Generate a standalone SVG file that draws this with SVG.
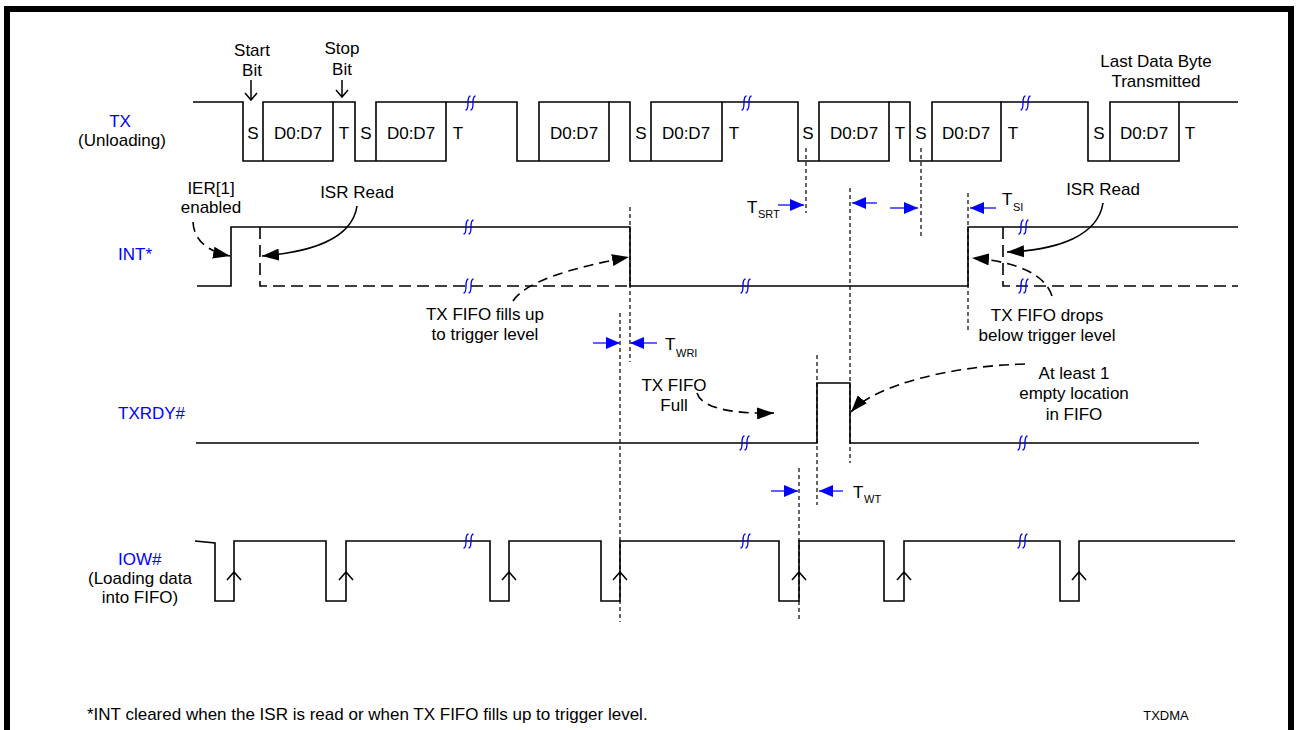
<svg xmlns="http://www.w3.org/2000/svg" width="1298" height="730" viewBox="0 0 1298 730">
<style>
text{font-family:"Liberation Sans",Arial,sans-serif;font-size:17px;fill:#000}
.lbl{fill:#0000ff}
.mid{text-anchor:middle}
.sub{font-size:11px}
.sig{fill:none;stroke:#000;stroke-width:1.6}
.box{fill:none;stroke:#000;stroke-width:1.6}
.alt{fill:none;stroke:#000;stroke-width:1.6;stroke-dasharray:12,6}
.tm{fill:none;stroke:#000;stroke-width:1.2;stroke-dasharray:4,3}
.brk{fill:none;stroke:#0000ff;stroke-width:1.3}
.curve{fill:none;stroke:#000;stroke-width:1.6;marker-end:url(#ah)}
.dcurve{fill:none;stroke:#000;stroke-width:1.6;stroke-dasharray:10,6;marker-end:url(#ah)}
.barr{fill:none;stroke:#3a3aff;stroke-width:1.6;marker-end:url(#bh)}
.chev{fill:none;stroke:#000;stroke-width:1.5}
</style>
<defs>
<marker id="ah" viewBox="0 0 17 12" refX="17" refY="6" markerWidth="17" markerHeight="12" markerUnits="userSpaceOnUse" orient="auto">
<path d="M0,0 L17,6 L0,12 z" fill="#000"/>
</marker>
<marker id="bh" viewBox="0 0 14 12" refX="14" refY="6" markerWidth="14" markerHeight="12" markerUnits="userSpaceOnUse" orient="auto">
<path d="M0,0 L14,6 L0,12 z" fill="#0000ff"/>
</marker>
<path id="bm" d="M0.5,-7 Q-2,-7 -2,0 Q-2,7 -4.5,7 M5.5,-7 Q3,-7 3,0 Q3,7 0.5,7"/>
</defs>
<rect x="7" y="9" width="1284" height="760" fill="#fff" stroke="#000" stroke-width="6"/>

<g id="tx">
<text class="lbl mid" x="120" y="127">TX</text>
<text class="mid" x="122" y="146">(Unloading)</text>
<path class="sig" d="M193,102 H243 V161 H333 V102 H355 V161 H446 V102 H517 V161 H609 V102 H630 V161 H722 V102 H798 V161 H889 V102 H910 V161 H1001 V102 H1088 V161 H1179 V102 H1238"/>
<path class="box" d="M263,161 V102 H333 M376,161 V102 H446 M539,161 V102 H609 M651,161 V102 H722 M819,161 V102 H889 M932,161 V102 H1001 M1110,161 V102 H1179"/>
<g class="mid">
<text x="253" y="139">S</text><text x="298" y="139">D0:D7</text><text x="344" y="139">T</text>
<text x="366" y="139">S</text><text x="411" y="139">D0:D7</text><text x="458" y="139">T</text>
<text x="574" y="139">D0:D7</text>
<text x="641" y="139">S</text><text x="686" y="139">D0:D7</text><text x="734" y="139">T</text>
<text x="808" y="139">S</text><text x="854" y="139">D0:D7</text><text x="900" y="139">T</text>
<text x="921" y="139">S</text><text x="966" y="139">D0:D7</text><text x="1013" y="139">T</text>
<text x="1099" y="139">S</text><text x="1144" y="139">D0:D7</text><text x="1190" y="139">T</text>
</g>
<text class="mid" x="252" y="56">Start</text>
<text class="mid" x="252" y="76">Bit</text>
<text class="mid" x="342" y="54">Stop</text>
<text class="mid" x="342" y="75">Bit</text>
<path class="chev" d="M251,80 V100 M245,93 L251,100 L257,93 M342,80 V97 M336,90 L342,97 L348,90"/>
<text class="mid" x="1156" y="67">Last Data Byte</text>
<text class="mid" x="1156" y="87">Transmitted</text>
</g>

<g id="int">
<text class="lbl" x="118" y="260">INT*</text>
<path class="sig" d="M197,286 H231 V227 H630 V286 H968 V227 H1238"/>
<path class="alt" d="M260,227 V286 H630 M1003,227 V286 H1238"/>
<text class="mid" x="211" y="194">IER[1]</text>
<text class="mid" x="211" y="213">enabled</text>
<text class="mid" x="357" y="198">ISR Read</text>
<text class="mid" x="485" y="320">TX FIFO fills up</text>
<text class="mid" x="485" y="340">to trigger level</text>
<text class="mid" x="1103" y="195">ISR Read</text>
<text class="mid" x="1047" y="321">TX FIFO drops</text>
<text class="mid" x="1047" y="341">below trigger level</text>
</g>

<g id="txrdy">
<text class="lbl" x="118" y="419">TXRDY#</text>
<path class="sig" d="M196,443 H817 V383 H850 V443 H1199"/>
<text class="mid" x="674" y="391">TX FIFO</text>
<text class="mid" x="674" y="411">Full</text>
<text class="mid" x="1074" y="379">At least 1</text>
<text class="mid" x="1074" y="399">empty location</text>
<text class="mid" x="1074" y="420">in FIFO</text>
</g>

<g id="iow">
<text class="lbl" x="118" y="565">IOW#</text>
<text class="mid" x="140" y="584">(Loading data</text>
<text class="mid" x="140" y="603">into FIFO)</text>
<path class="sig" d="M195,541 L215,543 V601 H234 V541 H326 V601 H346 V541 H490 V601 H509 V541 H601 V601 H620 V541 H779 V601 H799 V541 H884 V601 H904 V541 H1060 V601 H1079 V541 H1235"/>
<path class="chev" d="M227,580 L234,572 L241,580 M339,580 L346,572 L353,580 M502,580 L509,572 L516,580 M613,580 L620,572 L627,580 M792,580 L799,572 L806,580 M897,580 L904,572 L911,580 M1072,580 L1079,572 L1086,580"/>
</g>

<g id="breaks" class="brk">
<use href="#bm" x="470" y="103"/><use href="#bm" x="746" y="103"/><use href="#bm" x="1025" y="103"/>
<use href="#bm" x="468" y="227"/><use href="#bm" x="468" y="286"/><use href="#bm" x="745" y="286"/>
<use href="#bm" x="1023" y="227"/><use href="#bm" x="1023" y="286"/>
<use href="#bm" x="744" y="443"/><use href="#bm" x="1022" y="443"/>
<use href="#bm" x="468" y="541"/><use href="#bm" x="745" y="541"/><use href="#bm" x="1022" y="541"/>
</g>

<g id="connectors">
<path class="tm" d="M806,148 V213 M921,148 V239 M850,188 V463 M630,207 V362 M620,313 V622 M968,193 V330 M817,355 V505 M799,468 V622"/>
<path class="dcurve" d="M193,222 C194,242 210,252 230,256"/>
<path class="curve" d="M357,206 C352,240 310,252 262,256"/>
<path class="dcurve" d="M513,301 C525,282 570,268 629,257"/>
<path class="dcurve" d="M697,393 C702,410 740,414 774,413"/>
<path class="dcurve" d="M1025,364 C950,366 875,385 851,412"/>
<path class="curve" d="M1103,203 C1098,235 1060,250 1007,252"/>
<path class="dcurve" d="M1052,296 C1045,275 1020,262 972,258"/>
<path class="barr" d="M593,343 H620"/>
<path class="barr" d="M657,343 H630"/>
<path class="barr" d="M778,205 H804"/>
<path class="barr" d="M877,203 H852"/>
<path class="barr" d="M890,208 H918"/>
<path class="barr" d="M996,208 H970"/>
<path class="barr" d="M771,491 H798"/>
<path class="barr" d="M843,491 H819"/>
<text x="665" y="350">T</text><text class="sub" x="676" y="357">WRI</text>
<text x="747" y="213">T</text><text class="sub" x="758" y="218">SRT</text>
<text x="1002" y="205">T</text><text class="sub" x="1013" y="211">SI</text>
<text x="853" y="498">T</text><text class="sub" x="864" y="503">WT</text>
</g>

<text x="87" y="720">*INT cleared when the ISR is read or when TX FIFO fills up to trigger level.</text>
<text class="mid" x="1166" y="720" style="font-size:13px">TXDMA</text>
</svg>
